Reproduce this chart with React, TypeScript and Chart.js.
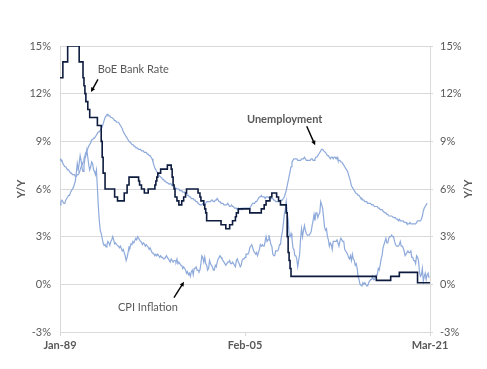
import React, { useEffect, useRef } from "react";
import { Chart, registerables } from "chart.js";

Chart.register(...registerables);

// ---------- DATA ----------
const MONTH_NAMES = ["Jan", "Feb", "Mar", "Apr", "May", "Jun", "Jul", "Aug", "Sep", "Oct", "Nov", "Dec"];
const START_YEAR = 1989;
const MONTH_COUNT = 387; // Jan-89 .. Mar-21

const months: string[] = [];
for (let i = 0; i < MONTH_COUNT; i++) {
  const yr = START_YEAR + Math.floor(i / 12);
  months.push(`${MONTH_NAMES[i % 12]}-${String(yr % 100).padStart(2, "0")}`);
}

const xTickLabels = ["Jan-89", "Feb-05", "Mar-21"];
const yTickValues = [-3, 0, 3, 6, 9, 12, 15];
const yAxisTitle = "Y/Y";

// BoE Bank Rate, % (month end)
const bankRate: (number | null)[] = [
  13, 13, 13, 13, 14, 14, 14, 14, 14, 15, 15, 15, // 1989
  15, 15, 15, 15, 15, 15, 15, 15, 15, 14, 14, 14, // 1990
  14, 13, 12.5, 12, 11.5, 11.5, 11, 11, 10.5, 10.5, 10.5, 10.5, // 1991
  10.5, 10.5, 10.5, 10.5, 10, 10, 10, 10, 9, 8, 7, 7, // 1992
  6, 6, 6, 6, 6, 6, 6, 6, 6, 6, 5.5, 5.5, // 1993
  5.5, 5.25, 5.25, 5.25, 5.25, 5.25, 5.25, 5.25, 5.75, 5.75, 5.75, 6.25, // 1994
  6.25, 6.75, 6.75, 6.75, 6.75, 6.75, 6.75, 6.75, 6.75, 6.75, 6.75, 6.5, // 1995
  6.25, 6.25, 6, 6, 6, 5.75, 5.75, 5.75, 5.75, 6, 6, 6, // 1996
  6, 6, 6, 6, 6.25, 6.5, 6.75, 7, 7, 7, 7.25, 7.25, // 1997
  7.25, 7.25, 7.25, 7.25, 7.25, 7.5, 7.5, 7.5, 7.5, 7.25, 6.75, 6.25, // 1998
  6, 5.5, 5.5, 5.25, 5.25, 5, 5, 5, 5.25, 5.25, 5.5, 5.5, // 1999
  5.75, 6, 6, 6, 6, 6, 6, 6, 6, 6, 6, 6, // 2000
  6, 5.75, 5.75, 5.5, 5.25, 5.25, 5.25, 5, 4.75, 4.5, 4, 4, // 2001
  4, 4, 4, 4, 4, 4, 4, 4, 4, 4, 4, 4, // 2002
  4, 3.75, 3.75, 3.75, 3.75, 3.75, 3.5, 3.5, 3.5, 3.5, 3.75, 3.75, // 2003
  3.75, 4, 4, 4, 4.25, 4.5, 4.5, 4.75, 4.75, 4.75, 4.75, 4.75, // 2004
  4.75, 4.75, 4.75, 4.75, 4.75, 4.75, 4.75, 4.5, 4.5, 4.5, 4.5, 4.5, // 2005
  4.5, 4.5, 4.5, 4.5, 4.5, 4.5, 4.5, 4.75, 4.75, 4.75, 5, 5, // 2006
  5.25, 5.25, 5.25, 5.25, 5.5, 5.5, 5.75, 5.75, 5.75, 5.75, 5.75, 5.5, // 2007
  5.5, 5.25, 5.25, 5, 5, 5, 5, 5, 5, 4.5, 3, 2, // 2008
  1.5, 1, 0.5, 0.5, 0.5, 0.5, 0.5, 0.5, 0.5, 0.5, 0.5, 0.5, // 2009
  0.5, 0.5, 0.5, 0.5, 0.5, 0.5, 0.5, 0.5, 0.5, 0.5, 0.5, 0.5, // 2010
  0.5, 0.5, 0.5, 0.5, 0.5, 0.5, 0.5, 0.5, 0.5, 0.5, 0.5, 0.5, // 2011
  0.5, 0.5, 0.5, 0.5, 0.5, 0.5, 0.5, 0.5, 0.5, 0.5, 0.5, 0.5, // 2012
  0.5, 0.5, 0.5, 0.5, 0.5, 0.5, 0.5, 0.5, 0.5, 0.5, 0.5, 0.5, // 2013
  0.5, 0.5, 0.5, 0.5, 0.5, 0.5, 0.5, 0.5, 0.5, 0.5, 0.5, 0.5, // 2014
  0.5, 0.5, 0.5, 0.5, 0.5, 0.5, 0.5, 0.5, 0.5, 0.5, 0.5, 0.5, // 2015
  0.5, 0.5, 0.5, 0.5, 0.5, 0.5, 0.5, 0.25, 0.25, 0.25, 0.25, 0.25, // 2016
  0.25, 0.25, 0.25, 0.25, 0.25, 0.25, 0.25, 0.25, 0.25, 0.25, 0.5, 0.5, // 2017
  0.5, 0.5, 0.5, 0.5, 0.5, 0.5, 0.5, 0.75, 0.75, 0.75, 0.75, 0.75, // 2018
  0.75, 0.75, 0.75, 0.75, 0.75, 0.75, 0.75, 0.75, 0.75, 0.75, 0.75, 0.75, // 2019
  0.75, 0.75, 0.1, 0.1, 0.1, 0.1, 0.1, 0.1, 0.1, 0.1, 0.1, 0.1, // 2020
  0.1, 0.1, 0.1, // 2021
];

// CPI inflation, % Y/Y
const cpiInflation: (number | null)[] = [
  5.0, 5.2, 5.3, 5.2, 5.1, 5.1, 5.3, 5.4, 5.5, 5.6, 5.6, 5.8, // 1989
  5.9, 6.0, 6.1, 6.3, 6.5, 7.0, 7.6, 7.2, 7.6, 8.1, 7.8, 7.3, // 1990
  7.1, 7.5, 7.9, 8.1, 8.45, 8.0, 7.5, 7.2, 7.4, 7.7, 7.6, 7.2, // 1991
  7.1, 6.9, 7.2, 6.1, 4.9, 4.0, 3.4, 3.2, 2.9, 2.6, 2.45, 2.5, // 1992
  2.35, 2.5, 2.7, 2.6, 2.45, 2.7, 2.8, 3.0, 2.8, 2.55, 2.6, 2.5, // 1993
  2.45, 2.4, 2.3, 2.4, 2.25, 2.1, 2.2, 2.0, 1.8, 1.5, 1.7, 2.0, // 1994
  2.35, 2.3, 2.55, 2.5, 2.7, 2.6, 2.75, 2.9, 2.8, 3.0, 2.9, 2.8, // 1995
  2.7, 2.65, 2.5, 2.6, 2.55, 2.4, 2.5, 2.4, 2.35, 2.2, 2.3, 2.15, // 1996
  2.0, 1.95, 1.9, 1.8, 1.9, 1.8, 1.9, 1.8, 1.7, 1.8, 1.7, 1.7, // 1997
  1.6, 1.6, 1.7, 1.8, 1.7, 1.6, 1.5, 1.4, 1.6, 1.5, 1.4, 1.5, // 1998
  1.5, 1.4, 1.6, 1.3, 1.4, 1.3, 1.2, 1.2, 1.0, 1.1, 1.0, 0.9, // 1999
  0.7, 0.8, 0.6, 0.7, 0.5, 0.8, 0.9, 0.6, 1.0, 1.0, 1.1, 0.9, // 2000
  0.9, 0.8, 0.9, 1.3, 1.8, 1.7, 1.4, 1.7, 1.3, 1.2, 0.9, 1.0, // 2001
  1.5, 1.3, 1.2, 1.1, 0.9, 0.9, 1.2, 1.1, 1.4, 1.6, 1.7, 1.8, // 2002
  1.7, 1.6, 1.5, 1.4, 1.3, 1.2, 1.3, 1.4, 1.4, 1.5, 1.3, 1.3, // 2003
  1.4, 1.3, 1.2, 1.1, 1.5, 1.6, 1.4, 1.3, 1.1, 1.2, 1.5, 1.6, // 2004
  1.6, 1.7, 1.9, 1.9, 1.9, 2.0, 2.3, 2.4, 2.5, 2.3, 2.1, 2.0, // 2005
  1.9, 2.0, 1.8, 2.0, 2.2, 2.5, 2.4, 2.5, 2.4, 2.4, 2.7, 3.0, // 2006
  2.7, 2.8, 3.1, 2.8, 2.5, 2.4, 1.9, 1.8, 1.8, 2.1, 2.1, 2.1, // 2007
  2.2, 2.5, 2.5, 3.0, 3.3, 3.8, 4.4, 4.7, 5.2, 4.5, 4.1, 3.1, // 2008
  3.0, 3.2, 2.9, 2.3, 2.2, 1.8, 1.8, 1.6, 1.1, 1.5, 1.9, 2.9, // 2009
  3.5, 3.0, 3.4, 3.7, 3.4, 3.2, 3.1, 3.1, 3.1, 3.2, 3.3, 3.7, // 2010
  4.0, 4.4, 4.0, 4.5, 4.5, 4.2, 4.4, 4.5, 5.2, 5.0, 4.8, 4.2, // 2011
  3.6, 3.4, 3.5, 3.0, 2.8, 2.4, 2.6, 2.5, 2.2, 2.7, 2.7, 2.7, // 2012
  2.7, 2.8, 2.8, 2.4, 2.7, 2.9, 2.8, 2.7, 2.7, 2.2, 2.1, 2.0, // 2013
  1.9, 1.7, 1.6, 1.8, 1.5, 1.9, 1.6, 1.5, 1.2, 1.3, 1.0, 0.5, // 2014
  0.3, 0.0, 0.0, -0.1, 0.1, 0.0, 0.1, 0.0, -0.1, -0.1, 0.1, 0.2, // 2015
  0.3, 0.3, 0.5, 0.3, 0.3, 0.5, 0.6, 0.6, 1.0, 0.9, 1.2, 1.6, // 2016
  1.8, 2.3, 2.3, 2.7, 2.9, 2.6, 2.6, 2.9, 3.0, 3.0, 3.1, 3.0, // 2017
  3.0, 2.7, 2.5, 2.4, 2.4, 2.4, 2.5, 2.7, 2.4, 2.4, 2.3, 2.1, // 2018
  1.8, 1.9, 1.9, 2.1, 2.0, 2.0, 2.1, 1.7, 1.7, 1.5, 1.5, 1.3, // 2019
  1.8, 1.7, 1.5, 0.8, 0.5, 0.6, 1.0, 0.2, 0.5, 0.7, 0.3, 0.6, // 2020
  0.7, 0.4, null, // 2021
];

// Unemployment rate, %
const unemployment: (number | null)[] = [
  7.9, 7.8, 7.8, 7.6, 7.5, 7.4, 7.4, 7.3, 7.2, 7.2, 7.1, 7.0, // 1989
  7.0, 6.9, 6.9, 6.9, 6.8, 6.8, 6.9, 6.9, 7.0, 7.2, 7.4, 7.5, // 1990
  7.7, 7.9, 8.1, 8.3, 8.4, 8.55, 8.7, 8.8, 8.9, 9.1, 9.1, 9.2, // 1991
  9.2, 9.3, 9.4, 9.5, 9.6, 9.6, 9.7, 9.8, 9.9, 10.1, 10.3, 10.5, // 1992
  10.6, 10.7, 10.7, 10.6, 10.6, 10.5, 10.5, 10.45, 10.4, 10.3, 10.3, 10.2, // 1993
  10.2, 10.2, 10.1, 10.0, 9.9, 9.8, 9.6, 9.5, 9.4, 9.3, 9.2, 9.1, // 1994
  9.0, 9.0, 8.9, 8.8, 8.8, 8.7, 8.7, 8.6, 8.6, 8.55, 8.5, 8.5, // 1995
  8.5, 8.4, 8.4, 8.4, 8.3, 8.3, 8.3, 8.2, 8.2, 8.1, 8.1, 8.0, // 1996
  7.9, 7.7, 7.5, 7.3, 7.2, 7.1, 7.0, 6.9, 6.8, 6.75, 6.7, 6.6, // 1997
  6.6, 6.5, 6.5, 6.4, 6.4, 6.35, 6.3, 6.35, 6.3, 6.2, 6.2, 6.2, // 1998
  6.1, 6.1, 6.0, 6.0, 6.0, 5.9, 5.9, 5.9, 5.8, 5.8, 5.8, 5.7, // 1999
  5.7, 5.6, 5.6, 5.5, 5.5, 5.4, 5.4, 5.4, 5.3, 5.3, 5.2, 5.2, // 2000
  5.1, 5.1, 5.0, 5.0, 5.0, 5.1, 5.1, 5.0, 5.1, 5.2, 5.2, 5.2, // 2001
  5.2, 5.2, 5.3, 5.3, 5.2, 5.2, 5.3, 5.3, 5.4, 5.3, 5.2, 5.2, // 2002
  5.1, 5.1, 5.1, 5.0, 5.0, 5.0, 5.0, 5.1, 5.0, 4.9, 4.9, 5.0, // 2003
  4.9, 4.9, 4.8, 4.8, 4.8, 4.7, 4.8, 4.7, 4.7, 4.8, 4.7, 4.8, // 2004
  4.8, 4.8, 4.8, 4.8, 4.8, 4.8, 4.8, 4.9, 5.0, 5.1, 5.1, 5.1, // 2005
  5.2, 5.2, 5.3, 5.4, 5.5, 5.5, 5.6, 5.5, 5.5, 5.5, 5.4, 5.5, // 2006
  5.5, 5.5, 5.5, 5.4, 5.4, 5.4, 5.4, 5.3, 5.3, 5.2, 5.2, 5.2, // 2007
  5.2, 5.2, 5.3, 5.3, 5.3, 5.4, 5.5, 5.7, 5.9, 6.2, 6.5, 6.8, // 2008
  7.1, 7.4, 7.7, 7.8, 7.9, 7.9, 7.9, 7.9, 7.8, 7.8, 7.8, 7.8, // 2009
  7.9, 7.9, 7.9, 8.0, 7.9, 7.8, 7.8, 7.8, 7.8, 7.8, 7.9, 7.9, // 2010
  7.8, 7.8, 7.9, 8.0, 8.0, 8.1, 8.2, 8.3, 8.4, 8.5, 8.5, 8.4, // 2011
  8.35, 8.3, 8.2, 8.1, 8.1, 8.0, 7.9, 8.0, 8.0, 7.9, 8.0, 8.0, // 2012
  7.9, 8.0, 7.8, 7.8, 7.8, 7.7, 7.7, 7.6, 7.5, 7.4, 7.3, 7.2, // 2013
  7.1, 6.9, 6.7, 6.5, 6.2, 6.1, 6.0, 5.9, 5.8, 5.7, 5.7, 5.6, // 2014
  5.6, 5.5, 5.4, 5.4, 5.3, 5.3, 5.2, 5.2, 5.2, 5.1, 5.1, 5.1, // 2015
  5.1, 5.0, 5.0, 5.0, 4.9, 4.9, 4.9, 4.9, 4.8, 4.8, 4.7, 4.7, // 2016
  4.7, 4.6, 4.6, 4.5, 4.5, 4.4, 4.4, 4.3, 4.3, 4.3, 4.3, 4.25, // 2017
  4.2, 4.2, 4.2, 4.1, 4.1, 4.0, 4.1, 4.0, 4.0, 4.0, 4.0, 3.9, // 2018
  3.9, 3.9, 3.8, 3.8, 3.8, 3.9, 3.8, 3.8, 3.8, 3.8, 3.8, 3.8, // 2019
  3.9, 4.0, 4.0, 4.0, 4.0, 4.1, 4.3, 4.6, 4.8, 4.9, 5.0, 5.1, // 2020
  null, null, null, // 2021
];

// ---------- ANNOTATIONS (positions in data units: month index, %) ----------
const annotations = [
  { text: "BoE Bank Rate", at: [39.3, 13.5], bold: false, from: [39.6, 12.9], to: [32.3, 12.1] },
  { text: "Unemployment", at: [195, 10.35], bold: true, from: [257.4, 9.95], to: [266.2, 8.75] },
  { text: "CPI Inflation", at: [60.5, -1.47], bold: false, from: [118.9, -0.84], to: [129.4, 0.16] },
];

const TEXT_COLOR = "#595959";
const GRID_COLOR = "#d9d9d9";
const FONT_FAMILY = "Lato, 'Open Sans', sans-serif";

const annotationPlugin = {
  id: "annotations",
  afterDatasetsDraw(chart: any) {
    const { ctx, scales, chartArea } = chart;
    const x = scales.x;
    const y = scales.y;
    ctx.save();
    for (const a of annotations) {
      ctx.font = `${a.bold ? "bold " : ""}11px ${FONT_FAMILY}`;
      ctx.fillStyle = TEXT_COLOR;
      ctx.textAlign = "left";
      ctx.textBaseline = "middle";
      ctx.fillText(a.text, x.getPixelForValue(a.at[0]), y.getPixelForValue(a.at[1]));

      const x1 = x.getPixelForValue(a.from[0]);
      const y1 = y.getPixelForValue(a.from[1]);
      const x2 = x.getPixelForValue(a.to[0]);
      const y2 = y.getPixelForValue(a.to[1]);
      const ang = Math.atan2(y2 - y1, x2 - x1);
      const head = 5;
      ctx.strokeStyle = "#000";
      ctx.fillStyle = "#000";
      ctx.lineWidth = 1.4;
      ctx.beginPath();
      ctx.moveTo(x1, y1);
      ctx.lineTo(x2 - Math.cos(ang) * head * 0.8, y2 - Math.sin(ang) * head * 0.8);
      ctx.stroke();
      ctx.beginPath();
      ctx.moveTo(x2, y2);
      ctx.lineTo(x2 - head * Math.cos(ang - 0.45), y2 - head * Math.sin(ang - 0.45));
      ctx.lineTo(x2 - head * Math.cos(ang + 0.45), y2 - head * Math.sin(ang + 0.45));
      ctx.closePath();
      ctx.fill();
    }
    // right-hand axis title, rotated like the left one (reads bottom to top)
    const r = scales.y2;
    ctx.translate(r.right - 11, (chartArea.top + chartArea.bottom) / 2);
    ctx.rotate(-Math.PI / 2);
    ctx.font = `bold 11px ${FONT_FAMILY}`;
    ctx.fillStyle = TEXT_COLOR;
    ctx.textAlign = "center";
    ctx.textBaseline = "middle";
    ctx.fillText(yAxisTitle, 0, 0);
    ctx.restore();
  },
};

export default function App() {
  const canvasRef = useRef<HTMLCanvasElement | null>(null);

  useEffect(() => {
    if (!canvasRef.current) return;
    const tickFont = { family: FONT_FAMILY, size: 11 };
    const chart = new Chart(canvasRef.current, {
      type: "line",
      data: {
        labels: months,
        datasets: [
          {
            label: "BoE Bank Rate",
            data: bankRate,
            borderColor: "#0d1b3e",
            borderWidth: 1.6,
            pointRadius: 0,
            stepped: "after",
            yAxisID: "y",
          },
          {
            label: "Unemployment",
            data: unemployment,
            borderColor: "#8eaadb",
            borderWidth: 1.2,
            pointRadius: 0,
            yAxisID: "y",
          },
          {
            label: "CPI Inflation",
            data: cpiInflation,
            borderColor: "#8eaadb",
            borderWidth: 1.2,
            pointRadius: 0,
            yAxisID: "y",
          },
        ],
      },
      options: {
        animation: false,
        responsive: false,
        layout: { padding: { top: 38, left: 0, right: 0, bottom: 0 } },
        plugins: {
          legend: { display: false },
          tooltip: { enabled: false },
        },
        scales: {
          x: {
            type: "category",
            offset: false,
            grid: {
              drawOnChartArea: false,
              drawTicks: true,
              tickLength: 4,
              color: GRID_COLOR,
            },
            border: { display: true, color: GRID_COLOR },
            ticks: {
              autoSkip: false,
              maxRotation: 0,
              minRotation: 0,
              padding: 3,
              color: TEXT_COLOR,
              font: { ...tickFont, weight: "bold" },
              callback: function (this: any, value: any) {
                const lbl = this.getLabelForValue(value);
                return xTickLabels.includes(lbl) ? lbl : null;
              },
            },
            afterFit: (scale: any) => {
              scale.height = 29;
            },
          },
          y: {
            position: "left",
            min: -3,
            max: 15,
            afterBuildTicks: (scale: any) => {
              scale.ticks = yTickValues.map((v) => ({ value: v }));
            },
            grid: { color: GRID_COLOR, drawTicks: false },
            border: { display: true, color: GRID_COLOR },
            ticks: {
              padding: 9,
              color: TEXT_COLOR,
              font: tickFont,
              callback: (v: any) => `${v}%`,
            },
            title: {
              display: true,
              text: yAxisTitle,
              color: TEXT_COLOR,
              font: { ...tickFont, weight: "bold" },
              padding: { top: 7, bottom: 0 },
            },
            afterFit: (scale: any) => {
              scale.width = 52;
            },
          },
          y2: {
            position: "right",
            min: -3,
            max: 15,
            afterBuildTicks: (scale: any) => {
              scale.ticks = yTickValues.map((v) => ({ value: v }));
            },
            grid: { drawOnChartArea: false, drawTicks: true, tickLength: 3, color: GRID_COLOR },
            border: { display: true, color: GRID_COLOR },
            ticks: {
              padding: 7,
              color: TEXT_COLOR,
              font: tickFont,
              callback: (v: any) => `${v}%`,
            },
            title: { display: false },
            afterFit: (scale: any) => {
              scale.width = 49;
            },
          },
        },
      },
      plugins: [annotationPlugin],
    } as any);
    return () => chart.destroy();
  }, []);

  return <canvas ref={canvasRef} width={471} height={353} style={{ display: "block" }} />;
}
